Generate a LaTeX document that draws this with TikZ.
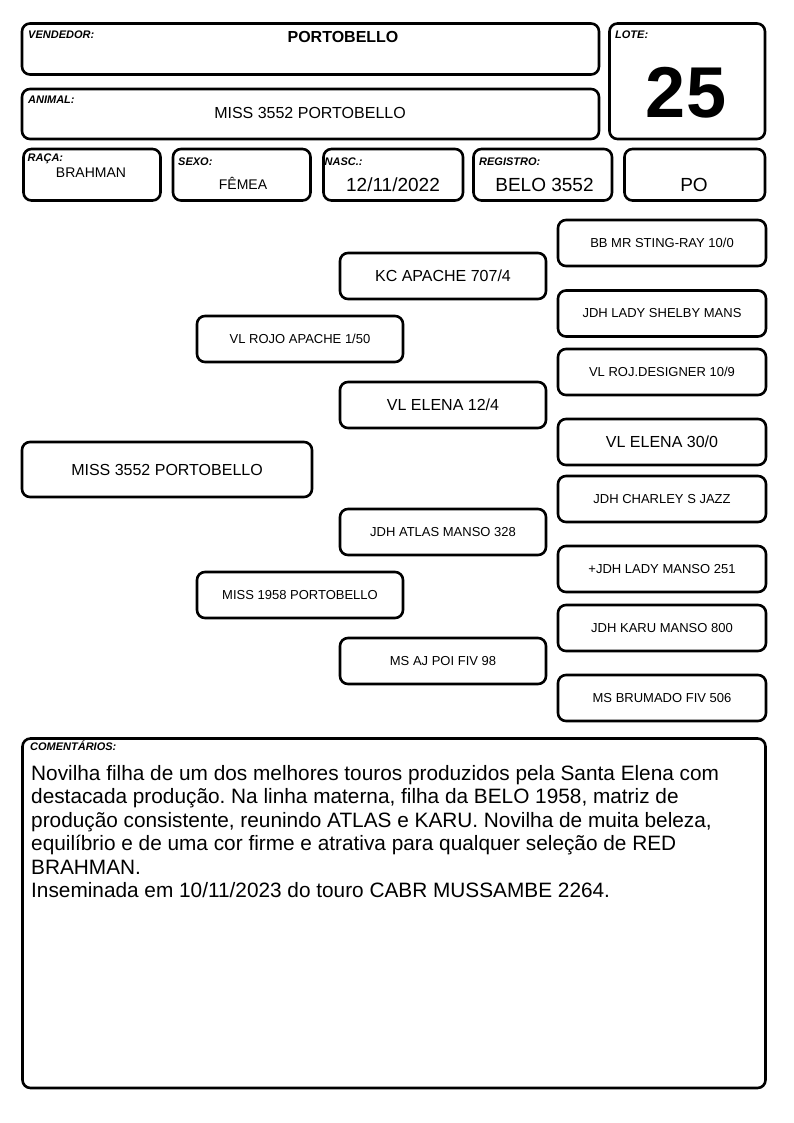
\documentclass[tikz,border=0pt]{standalone}
\usepackage{fontspec}
\setmainfont{Liberation Sans}
\frenchspacing
\newcommand{\pxfont}[1]{\fontsize{#1}{#1}\selectfont}

\begin{document}
\begin{tikzpicture}[x=1pt,y=-1pt,
                box/.style={draw, line width=2.6pt, rounded corners=8pt, inner sep=0pt},
                tag/.style={anchor=base west, inner sep=0pt, font=\pxfont{11}\bfseries\itshape},
                val/.style={anchor=base, inner sep=0pt}]
  \useasboundingbox (0,0) rectangle (794,1123);
  \tikzstyle{gen}=[box, minimum width=206pt, minimum height=46pt, font=\pxfont{13}]
  \tikzstyle{gen4}=[gen, minimum width=208pt]

  % header
  \node[box, minimum width=577pt, minimum height=51pt] (vendedor) at (310.5,49) {};
  \node[tag] (vendedortag) at (28,39) {VENDEDOR:};
  \node[val, font=\pxfont{16}\bfseries] (vendedorval) at (343,43) {PORTOBELLO};

  \node[box, minimum width=577pt, minimum height=50pt] (animal) at (310.5,114) {};
  \node[tag] (animaltag) at (28,103.5) {ANIMAL:};
  \node[val, font=\pxfont{16}] (animalval) at (310,119) {MISS 3552 PORTOBELLO};

  \node[box, minimum width=155.5pt, minimum height=115.5pt] (lote) at (687.25,81.25) {};
  \node[tag] (lotetag) at (615,39) {LOTE:};
  \node[val, font=\pxfont{72}\bfseries] (loteval) at (686,118) {25};

  % second row
  \node[box, minimum width=137pt, minimum height=51.5pt] (raca) at (92,174.75) {};
  \node[tag] (racatag) at (27.5,162) {RAÇA:};
  \node[val, font=\pxfont{14}] (racaval) at (91,178) {BRAHMAN};

  \node[box, minimum width=137.5pt, minimum height=51.5pt] (sexo) at (241.75,174.75) {};
  \node[tag] (sexotag) at (178,165.5) {SEXO:};
  \node[val, font=\pxfont{14}] (sexoval) at (243,190) {FÊMEA};

  \node[box, minimum width=139.5pt, minimum height=51.5pt] (nasc) at (393.25,174.75) {};
  \node[tag] (nasctag) at (324.5,165.5) {NASC.:};
  \node[val, font=\pxfont{19}] (nascval) at (393,192) {12/11/2022};

  \node[box, minimum width=138.5pt, minimum height=51.5pt] (registro) at (542.75,174.75) {};
  \node[tag] (registrotag) at (479,165.5) {REGISTRO:};
  \node[val, font=\pxfont{19}] (registroval) at (544.5,192) {BELO 3552};

  \node[box, minimum width=140.5pt, minimum height=51.5pt] (categoria) at (694.75,174.75) {};
  \node[val, font=\pxfont{19}] (categoriaval) at (694,192) {PO};

  % pedigree
  \node[box, minimum width=290pt, minimum height=55pt, font=\pxfont{16}] (miss3552) at (167,469.5) {MISS 3552 PORTOBELLO};

  \node[gen] (rojoapache) at (300,339) {VL ROJO APACHE 1/50};
  \node[gen] (miss1958) at (300,595) {MISS 1958 PORTOBELLO};

  \node[gen, font=\pxfont{16}] (kcapache) at (443,276) {KC APACHE 707/4};
  \node[gen, font=\pxfont{16}] (elena124) at (443,405) {VL ELENA 12/4};
  \node[gen] (atlas) at (443,532) {JDH ATLAS MANSO 328};
  \node[gen] (poi) at (443,661) {MS AJ POI FIV 98};

  \node[gen4] (stingray) at (662,243) {BB MR STING-RAY 10/0};
  \node[gen4] (shelby) at (662,313.5) {JDH LADY SHELBY MANS};
  \node[gen4] (designer) at (662,372) {VL ROJ.DESIGNER 10/9};
  \node[gen4, font=\pxfont{16}] (elena300) at (662,442) {VL ELENA 30/0};
  \node[gen4] (charley) at (662,499) {JDH CHARLEY S JAZZ};
  \node[gen4] (ladymanso) at (662,569) {+JDH LADY MANSO 251};
  \node[gen4] (karu) at (662,628) {JDH KARU MANSO 800};
  \node[gen4] (brumado) at (662,698) {MS BRUMADO FIV 506};

  % comments
  \node[box, minimum width=743pt, minimum height=349.5pt] (comentarios) at (394,913.25) {};
  \node[tag] (comentariostag) at (30,750) {COMENTÁRIOS:};
  \node[anchor=north west, inner sep=0pt, align=left, font=\fontsize{20.8}{23.5}\selectfont] (comentariostxt) at (31,765)
    {Novilha filha de um dos melhores touros produzidos pela Santa Elena com\\
     destacada produção. Na linha materna, filha da BELO 1958, matriz de\\
     produção consistente, reunindo ATLAS e KARU. Novilha de muita beleza,\\
     equilíbrio e de uma cor firme e atrativa para qualquer seleção de RED\\
     BRAHMAN.\\
     Inseminada em 10/11/2023 do touro CABR MUSSAMBE 2264.};
\end{tikzpicture}
\end{document}
